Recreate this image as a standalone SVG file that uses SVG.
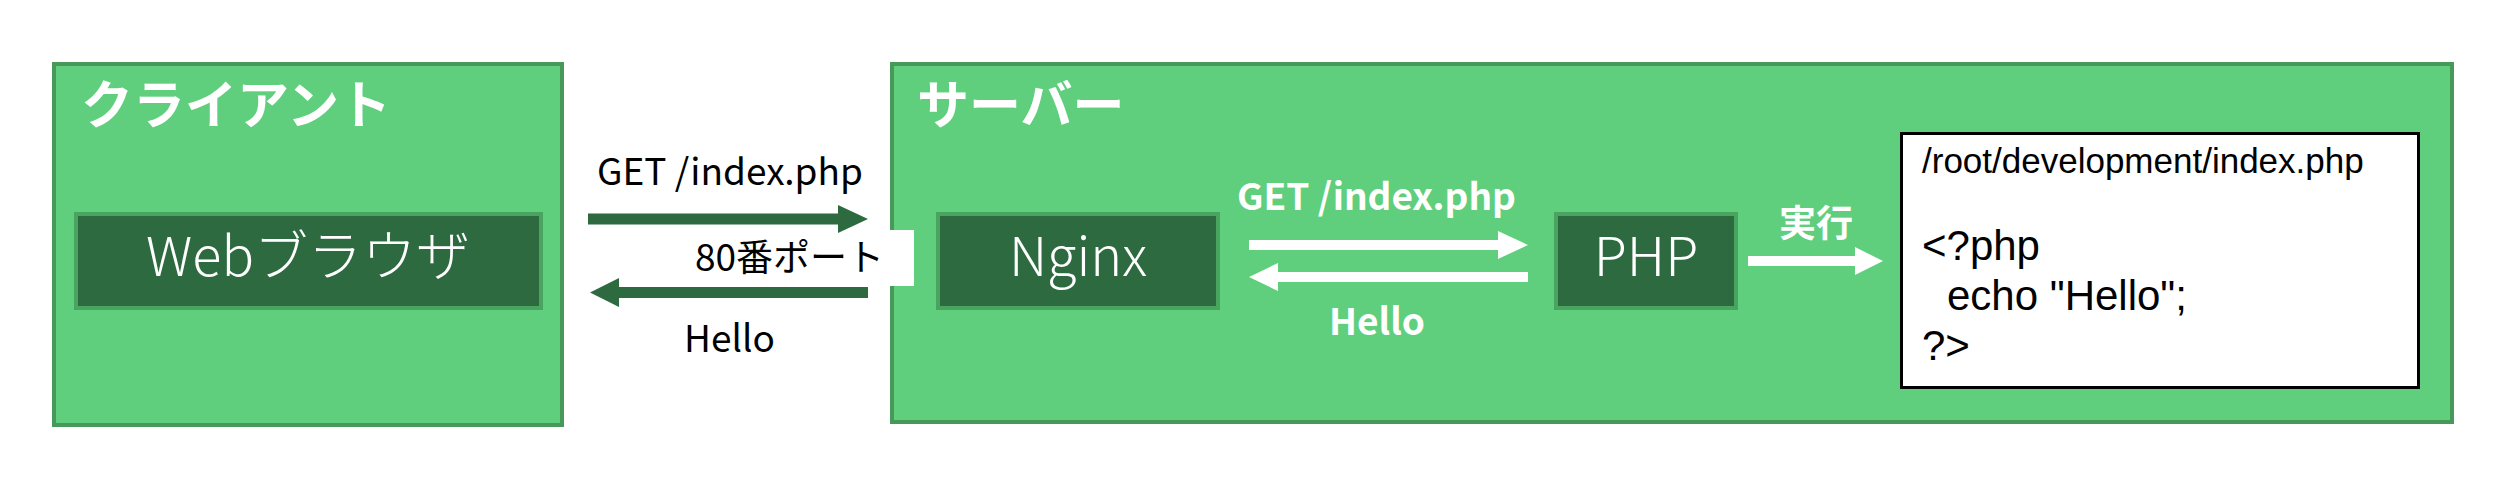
<svg xmlns="http://www.w3.org/2000/svg" width="2514" height="484" viewBox="0 0 2514 484">
<style>
.zone{fill:#5fcf7d;stroke:#47995a;stroke-width:4}
.node{fill:#2d6a3f;stroke:#48a45e;stroke-width:4}
.title{font-family:"Noto Sans CJK JP","Liberation Sans",sans-serif;font-weight:bold;font-size:52px;fill:#ffffff}
.ntext{font-family:"Noto Sans CJK JP","Liberation Sans",sans-serif;font-weight:300;font-size:54px;fill:#ffffff;text-anchor:middle}
.lbl{font-family:"Noto Sans CJK JP","Liberation Sans",sans-serif;font-size:37px;fill:#000000}
.wlbl{font-family:"Noto Sans CJK JP","Liberation Sans",sans-serif;font-weight:bold;font-size:37px;fill:#ffffff}
.code{font-family:"Liberation Sans",Arial,sans-serif;fill:#000000}
.darr{fill:#2d6a3f}
.warr{fill:#ffffff}
</style>
<rect width="2514" height="484" fill="#ffffff"/>
<g id="client">
<rect class="zone" x="54" y="64" width="508" height="361"/>
<text class="title" x="81" y="124">クライアント</text>
</g>
<g id="browser">
<rect class="node" x="76" y="214" width="465" height="94"/>
<text class="ntext" x="308" y="276">Webブラウザ</text>
</g>
<g id="server">
<rect class="zone" x="892" y="64" width="1560" height="358"/>
<text class="title" x="917" y="124">サーバー</text>
</g>
<g id="port">
<rect x="690" y="230" width="224" height="56" fill="#ffffff"/>
<text class="lbl" x="695" y="271" font-size="36">80番ポート</text>
</g>
<g id="nginx">
<rect class="node" x="938" y="214" width="280" height="94"/>
<text class="ntext" x="1078" y="276">Nginx</text>
</g>
<g id="php">
<rect class="node" x="1556" y="214" width="180" height="94"/>
<text class="ntext" x="1646" y="276">PHP</text>
</g>
<g id="code">
<rect x="1901.5" y="133.5" width="517" height="254" fill="#ffffff" stroke="#000000" stroke-width="3"/>
<text class="code" x="1922" y="173" font-size="35">/root/development/index.php</text>
<text class="code" x="1922" y="260" font-size="42">&lt;?php</text>
<text class="code" x="1947" y="310" font-size="42">echo "Hello";</text>
<text class="code" x="1922" y="360" font-size="42">?&gt;</text>
</g>
<g id="connectors">
<polygon class="darr" points="588,213.5 838,213.5 838,205 868,219 838,233 838,224.5 588,224.5"/>
<text class="lbl" x="597" y="185">GET /index.php</text>
<polygon class="darr" points="868,287 619,287 619,278 590,292.5 619,307 619,298 868,298"/>
<text class="lbl" x="684" y="352" font-size="36">Hello</text>
<polygon class="warr" points="1249,240 1498,240 1498,231 1528,245 1498,259 1498,250 1249,250"/>
<text class="wlbl" x="1237" y="210">GET /index.php</text>
<polygon class="warr" points="1528,272 1278,272 1278,263 1249,277 1278,291 1278,282 1528,282"/>
<text class="wlbl" x="1329" y="335" font-size="36">Hello</text>
<polygon class="warr" points="1748,256 1855,256 1855,247 1883,261 1855,275 1855,266 1748,266"/>
<text class="wlbl" x="1779" y="237" font-size="36">実行</text>
</g>
</svg>
